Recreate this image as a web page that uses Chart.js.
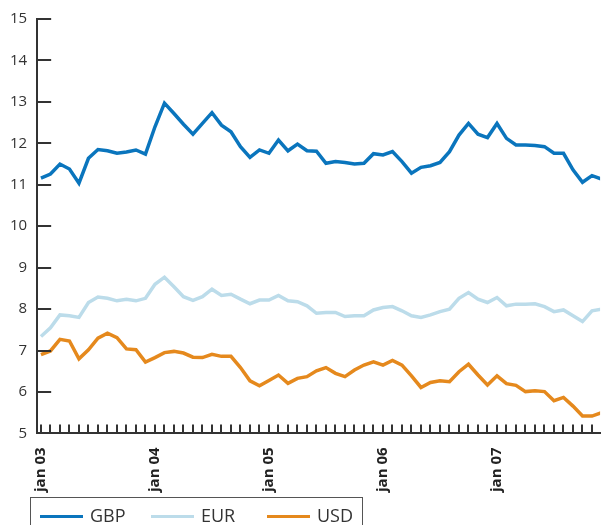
<!DOCTYPE html>
<html>
<head>
<meta charset="utf-8">
<script src="https://cdn.jsdelivr.net/npm/chart.js@4/dist/chart.umd.min.js"></script>
<style>
	html, body { margin: 0; padding: 0; background: #fff; overflow: hidden; }
	#wrap { position: relative; width: 603px; height: 525px; overflow: hidden; }
	#chart { position: absolute; left: 0; top: 0; }
	#legend {
		position: absolute; left: 30px; top: 497px; width: 333px; height: 40px;
		border: 1px solid #555; box-sizing: border-box;
		font-family: 'Open Sans', sans-serif; font-size: 18px; color: #333;
	}
	#legend .item { position: absolute; top: 6px; height: 26px; }
	#legend .swatch { position: absolute; top: 11px; height: 3px; width: 43px; }
	#legend .label { position: absolute; left: 50px; top: -1px; }
</style>
</head>
<body>
<div id="wrap">
	<canvas id="chart" width="624" height="506"></canvas>
	<div id="legend"></div>
</div>
<script>
'use strict';

// months from jan 03, one value per month
var startYear = 3;
var seriesNames = ['GBP', 'EUR', 'USD'];
var seriesColors = ['#0a75bd', '#bcdcea', '#e5891d'];

var gbp = [
	11.16, 11.26, 11.50, 11.38, 11.04, 11.64, 11.85, 11.82, 11.76, 11.79, 11.84, 11.74,
	12.40, 12.97, 12.72, 12.46, 12.22, 12.48, 12.74, 12.44, 12.28, 11.92, 11.66, 11.84,
	11.76, 12.08, 11.82, 11.98, 11.82, 11.81, 11.52, 11.56, 11.54, 11.50, 11.52, 11.75,
	11.72, 11.80, 11.56, 11.28, 11.42, 11.46, 11.54, 11.80, 12.20, 12.48, 12.22, 12.14,
	12.48, 12.12, 11.96, 11.96, 11.95, 11.92, 11.76, 11.76, 11.36, 11.06, 11.22, 11.14
];
var eur = [
	7.34, 7.55, 7.86, 7.84, 7.80, 8.16, 8.29, 8.26, 8.20, 8.24, 8.20, 8.26,
	8.60, 8.77, 8.54, 8.30, 8.21, 8.30, 8.48, 8.33, 8.36, 8.24, 8.13, 8.22,
	8.22, 8.33, 8.20, 8.18, 8.08, 7.90, 7.92, 7.92, 7.82, 7.84, 7.84, 7.98,
	8.04, 8.06, 7.96, 7.84, 7.80, 7.86, 7.94, 8.00, 8.26, 8.40, 8.24, 8.16,
	8.28, 8.08, 8.12, 8.12, 8.13, 8.06, 7.94, 7.98, 7.84, 7.70, 7.96, 8.00
];
var usd = [
	6.90, 6.99, 7.27, 7.23, 6.80, 7.02, 7.30, 7.42, 7.31, 7.04, 7.02, 6.72,
	6.83, 6.95, 6.98, 6.94, 6.84, 6.83, 6.91, 6.86, 6.86, 6.59, 6.27, 6.15,
	6.28, 6.41, 6.21, 6.33, 6.37, 6.51, 6.59, 6.45, 6.37, 6.53, 6.65, 6.73,
	6.65, 6.76, 6.65, 6.39, 6.11, 6.23, 6.27, 6.25, 6.49, 6.67, 6.41, 6.17,
	6.39, 6.20, 6.16, 6.01, 6.03, 6.01, 5.79, 5.87, 5.66, 5.42, 5.42, 5.50
];
var yTicks = [5, 6, 7, 8, 9, 10, 11, 12, 13, 14, 15];

var axisColor = '#333';

function toPoints(arr) {
	return arr.map(function(v, i) { return { x: i, y: v }; });
}

// inward tick marks on both axes
var innerTicks = {
	id: 'innerTicks',
	afterDraw: function(chart) {
		var c = chart.ctx;
		var area = chart.chartArea;
		var xs = chart.scales.x;
		var ys = chart.scales.y;
		c.save();
		c.strokeStyle = axisColor;
		c.lineWidth = 2;
		c.beginPath();
		yTicks.forEach(function(v) {
			var py = Math.round(ys.getPixelForValue(v));
			c.moveTo(area.left, py);
			c.lineTo(area.left + 14, py);
		});
		for (var i = 0; i < gbp.length; i++) {
			var px = Math.round(xs.getPixelForValue(i));
			if (px > area.left + 1 && px <= area.right) {
				c.moveTo(px, area.bottom);
				c.lineTo(px, area.bottom - 9);
			}
		}
		c.stroke();
		c.restore();
	}
};

var datasets = [gbp, eur, usd].map(function(arr, k) {
	return {
		label: seriesNames[k],
		data: toPoints(arr),
		borderColor: seriesColors[k],
		backgroundColor: seriesColors[k],
		borderWidth: 3.5,
		pointRadius: 0,
		tension: 0,
		borderJoinStyle: 'miter'
	};
});

new Chart(document.getElementById('chart'), {
	type: 'line',
	data: { datasets: datasets },
	options: {
		responsive: false,
		animation: false,
		layout: { padding: { left: 0, top: 11, right: 0, bottom: 0 } },
		plugins: {
			legend: { display: false },
			tooltip: { enabled: false }
		},
		scales: {
			x: {
				type: 'linear',
				min: -0.4,
				max: 58.85,
				grid: { display: false, drawTicks: false },
				border: { display: true, color: axisColor, width: 2 },
				ticks: {
					stepSize: 1,
					autoSkip: false,
					includeBounds: false,
					maxRotation: 90,
					minRotation: 90,
					padding: 14,
					color: '#222',
					font: { family: "'Open Sans', sans-serif", size: 15, weight: 'bold' },
					callback: function(v) {
						return v % 12 === 0 ? 'jan 0' + (startYear + v / 12) : '';
					}
				}
			},
			y: {
				min: 5,
				max: 15,
				grid: { display: false, drawTicks: false },
				border: { display: true, color: axisColor, width: 2 },
				ticks: {
					stepSize: 1,
					padding: 10,
					color: '#333',
					font: { family: "'Open Sans', sans-serif", size: 15 }
				}
			}
		}
	},
	plugins: [ innerTicks ]
});

// legend below the chart
var legend = document.getElementById('legend');
var swatchLeft = [9, 120, 236];
seriesNames.forEach(function(name, k) {
	var item = document.createElement('div');
	item.className = 'item';
	item.style.left = swatchLeft[k] + 'px';
	item.innerHTML = '<span class="swatch" style="background:' + seriesColors[k] + '"></span>' +
		'<span class="label">' + name + '</span>';
	legend.appendChild(item);
});
</script>
</body>
</html>
